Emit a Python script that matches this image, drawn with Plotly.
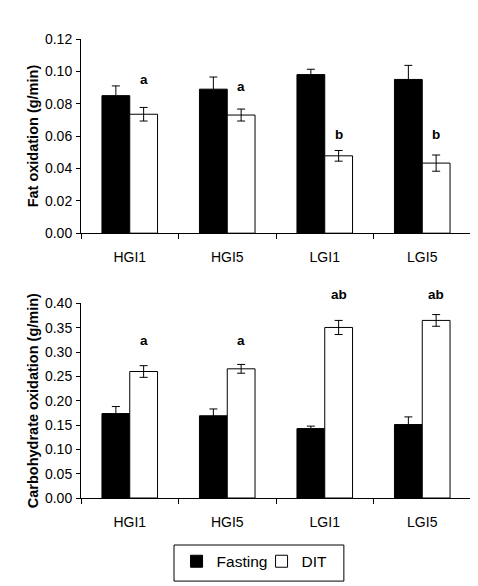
import plotly.graph_objects as go
from plotly.subplots import make_subplots

# data
groups = ["HGI1", "HGI5", "LGI1", "LGI5"]

fat_fasting = [0.085, 0.089, 0.098, 0.095]
fat_fasting_se = [0.006, 0.0075, 0.0033, 0.0087]
fat_dit = [0.0735, 0.073, 0.0478, 0.0433]
fat_dit_se = [0.0042, 0.0037, 0.0033, 0.005]

cho_fasting = [0.1735, 0.169, 0.1427, 0.151]
cho_fasting_se = [0.0145, 0.014, 0.005, 0.0157]
cho_dit = [0.260, 0.2655, 0.3505, 0.365]
cho_dit_se = [0.012, 0.009, 0.0145, 0.012]

fat_letters = ["a", "a", "b", "b"]
fat_letter_y = [0.0947, 0.0905, 0.0607, 0.0607]
cho_letters = ["a", "a", "ab", "ab"]
cho_letter_y = [0.323, 0.323, 0.419, 0.419]

fat_range = [0, 0.12]
cho_range = [0, 0.40]

FONT = "Liberation Sans, Arial, sans-serif"

fig = make_subplots(rows=2, cols=1)


def err(vals):
    return dict(type="data", array=vals, visible=True, color="black",
                thickness=1, width=4)


# top panel
fig.add_trace(go.Bar(x=groups, y=fat_fasting, name="Fasting", legendgroup="f",
                     marker=dict(color="black", line=dict(color="black", width=1)),
                     error_y=err(fat_fasting_se)), row=1, col=1)
fig.add_trace(go.Bar(x=groups, y=fat_dit, name="DIT", legendgroup="d",
                     marker=dict(color="white", line=dict(color="black", width=1)),
                     error_y=err(fat_dit_se)), row=1, col=1)
# bottom panel
fig.add_trace(go.Bar(x=groups, y=cho_fasting, name="Fasting", legendgroup="f",
                     showlegend=False,
                     marker=dict(color="black", line=dict(color="black", width=1)),
                     error_y=err(cho_fasting_se)), row=2, col=1)
fig.add_trace(go.Bar(x=groups, y=cho_dit, name="DIT", legendgroup="d",
                     showlegend=False,
                     marker=dict(color="white", line=dict(color="black", width=1)),
                     error_y=err(cho_dit_se)), row=2, col=1)

# significance letters above DIT bars (domain refs so they may sit above the range)
for g, t, yv in zip(groups, fat_letters, fat_letter_y):
    fig.add_annotation(x=g, y=yv / fat_range[1], text="<b>%s</b>" % t,
                       xref="x", yref="y domain",
                       showarrow=False, xshift=14, yanchor="middle",
                       font=dict(size=13.5, color="black", family=FONT))
for g, t, yv in zip(groups, cho_letters, cho_letter_y):
    fig.add_annotation(x=g, y=yv / cho_range[1], text="<b>%s</b>" % t,
                       xref="x2", yref="y2 domain",
                       showarrow=False, xshift=14, yanchor="middle",
                       font=dict(size=13.5, color="black", family=FONT))

fig.update_xaxes(showline=True, linecolor="black", linewidth=1, ticks="outside",
                 tickson="boundaries", ticklen=5, tickcolor="black",
                 showgrid=False, tickfont=dict(size=14, color="black"),
                 ticklabelstandoff=11)
fig.update_yaxes(showline=True, linecolor="black", linewidth=1, ticks="outside",
                 ticklen=4, tickcolor="black", showgrid=False, zeroline=False,
                 tickfont=dict(size=14, color="black"), tickformat=".2f",
                 ticklabelstandoff=1)

fig.update_yaxes(range=fat_range, dtick=0.02, row=1, col=1,
                 title=dict(text="<b>Fat oxidation (g/min)</b>", standoff=2,
                            font=dict(size=14.5, color="black")))
fig.update_yaxes(range=cho_range, dtick=0.05, row=2, col=1,
                 title=dict(text="<b>Carbohydrate oxidation (g/min)</b>", standoff=2,
                            font=dict(size=14.5, color="black")))

# legend frame
fig.add_shape(type="rect", xref="paper", yref="paper",
              x0=0.2385, x1=0.674, y0=-0.181, y1=-0.1024,
              line=dict(color="black", width=1), fillcolor="rgba(0,0,0,0)")

fig.update_layout(
    width=470, height=578,
    margin=dict(l=73, r=7, t=31, b=88),
    paper_bgcolor="white", plot_bgcolor="white",
    font=dict(family=FONT, color="black"),
    barmode="group", bargap=0.43, bargroupgap=0,
    xaxis=dict(domain=[0, 1]),
    yaxis=dict(domain=[0.577, 1]),
    xaxis2=dict(domain=[0, 1]),
    yaxis2=dict(domain=[0, 0.424]),
    legend=dict(orientation="h", x=0.245, xanchor="left", y=-0.1387,
                yanchor="middle", borderwidth=0, bgcolor="rgba(0,0,0,0)",
                font=dict(size=15.5, color="black"), itemwidth=30,
                entrywidth=40, entrywidthmode="pixels",
                traceorder="normal"),
)

fig.write_html("out.html")
